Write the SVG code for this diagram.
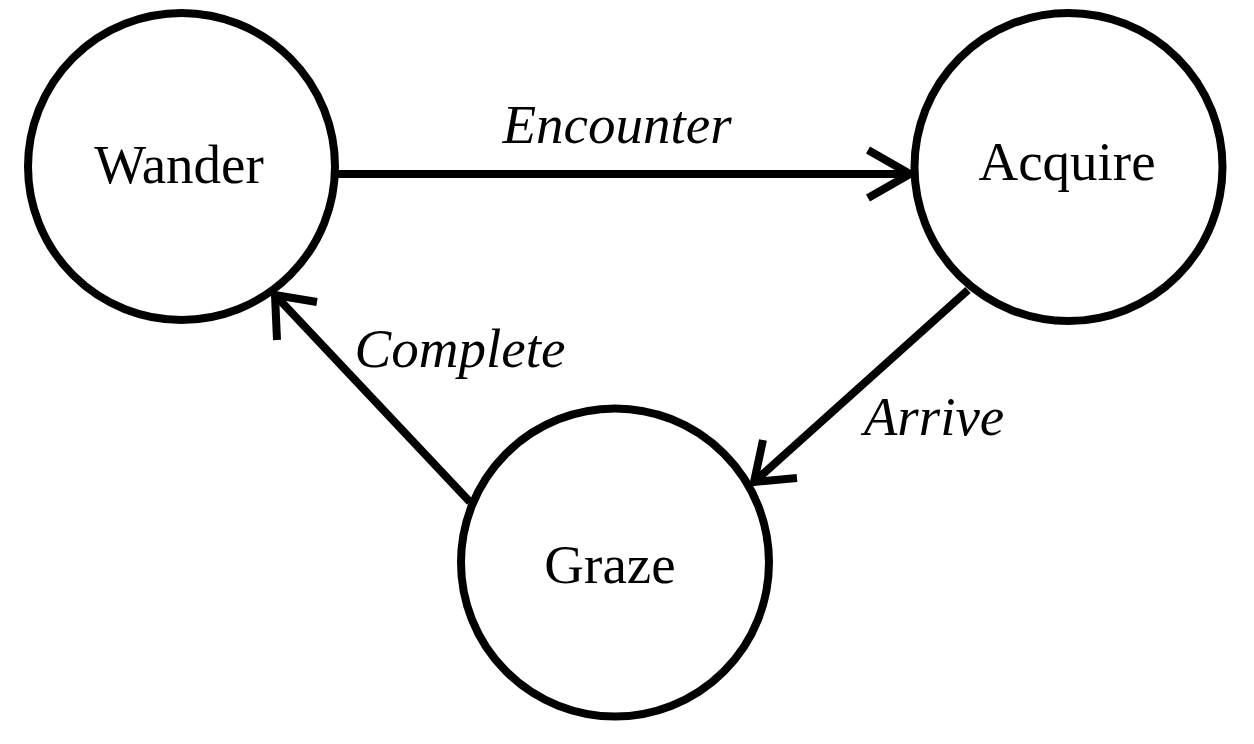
<svg xmlns="http://www.w3.org/2000/svg" width="1254" height="744" viewBox="0 0 1254 744">
<style>
.node{fill:#fff;stroke:#000;stroke-width:8}
.lbl{font-family:"Liberation Serif",serif;font-size:55px;fill:#000;text-anchor:middle}
.elbl{font-family:"Liberation Serif",serif;font-size:55px;font-style:italic;fill:#000;text-anchor:middle}
.edge{stroke:#000;stroke-width:8;fill:none}
</style>
<rect width="1254" height="744" fill="#fff"/>
<g id="wander"><circle class="node" cx="181.5" cy="166.5" r="153.5"/><text class="lbl" x="179" y="183">Wander</text></g>
<g id="acquire"><circle class="node" cx="1068.5" cy="167" r="154"/><text class="lbl" x="1067" y="180">Acquire</text></g>
<g id="graze"><circle class="node" cx="615" cy="562.5" r="154"/><text class="lbl" x="610" y="583">Graze</text></g>
<g id="connectors">
<line class="edge" x1="338" y1="174" x2="910" y2="174"/>
<polyline class="edge" points="868,150 910,174 868,198"/>
<line class="edge" x1="470" y1="502" x2="275" y2="295"/>
<polyline class="edge" points="317,302 275,295 277,340"/>
<line class="edge" x1="968" y1="290" x2="754" y2="482"/>
<polyline class="edge" points="763,440 754,482 797,478"/>
<text class="elbl" x="617" y="143">Encounter</text>
<text class="elbl" x="460" y="367">Complete</text>
<text class="elbl" x="934" y="435">Arrive</text>
</g>
</svg>
